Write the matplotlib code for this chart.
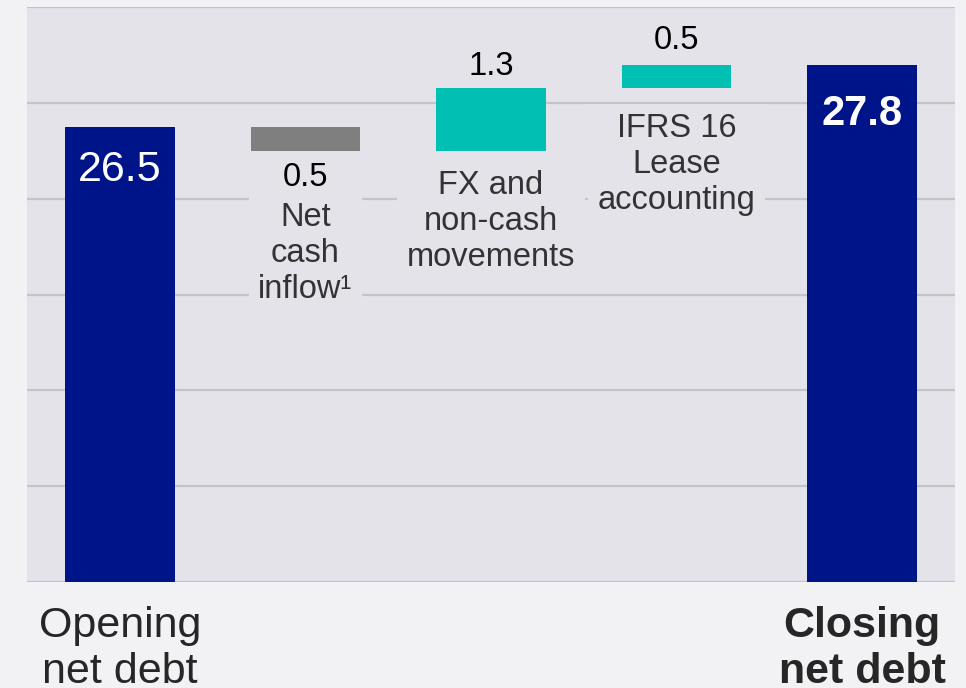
import matplotlib
matplotlib.use('Agg')
import matplotlib.pyplot as plt
import numpy as np

plt.rcParams['font.family'] = ['Liberation Sans', 'DejaVu Sans']

# data
step_labels = ['Net\ncash\ninflow¹', 'FX and\nnon-cash\nmovements', 'IFRS 16\nLease\naccounting']
opening = 26.5
steps = [-0.5, 1.3, 0.5]
closing = 27.8
end_labels = ['Opening\nnet debt', 'Closing\nnet debt']
value_texts = ['26.5', '0.5', '1.3', '0.5', '27.8']
yticks = [17, 19, 21, 23, 25, 27, 29]

navy = '#001489'
teal = '#00bfb3'
grey = '#7f7f7f'
plot_bg = '#e4e3ea'
fig_bg = '#f2f2f4'

fig = plt.figure(figsize=(9.66, 6.88), dpi=100, facecolor=fig_bg)
ax = fig.add_axes([0.028, 0.154, 0.9606, 0.8358])
ax.set_facecolor(plot_bg)
ax.set_xlim(-0.5, 4.5)
ax.set_ylim(17, 29)
for s in ax.spines.values():
    s.set_visible(False)
ax.set_xticks([])
ax.set_yticks(yticks)
ax.tick_params(left=False, labelleft=False)
ax.grid(axis='y', color='#c3c3c8', linewidth=1.6)
ax.set_axisbelow(True)

w = 0.59
ymin = ax.get_ylim()[0]
small = 23.5

# opening / closing totals
ax.bar(0, opening - ymin, bottom=ymin, width=w, color=navy, zorder=2)
ax.bar(4, closing - ymin, bottom=ymin, width=w, color=navy, zorder=2)

# steps
level = opening
bottoms, tops = [], []
for i, d in enumerate(steps):
    lo, hi = min(level, level + d), max(level, level + d)
    col = grey if d < 0 else teal
    ax.bar(i + 1, hi - lo, bottom=lo, width=w, color=col, zorder=2)
    bottoms.append(lo)
    tops.append(hi)
    level += d

# totals values
ax.annotate(value_texts[0], (0, opening), xytext=(0, -16.5), textcoords='offset points',
            ha='center', va='top', color='white', fontsize=31)
ax.annotate(value_texts[4], (4, closing), xytext=(0, -21), textcoords='offset points',
            ha='center', va='top', color='white', fontsize=30, fontweight='bold')

box = dict(boxstyle='square,pad=0.3', facecolor=plot_bg, edgecolor='none')

# net cash inflow: value and label below bar
ax.annotate(value_texts[1], (1, bottoms[0]), xytext=(0, -8), textcoords='offset points',
            ha='center', va='top', color='black', fontsize=small)
ax.annotate(step_labels[0], (1, bottoms[0]), xytext=(0, -37), textcoords='offset points',
            ha='center', va='top', color='#333333', fontsize=small, bbox=box, zorder=3)

# FX: value above, label below
ax.annotate(value_texts[2], (2, tops[1]), xytext=(0, 10), textcoords='offset points',
            ha='center', va='baseline', color='black', fontsize=small)
ax.annotate(step_labels[1], (2, bottoms[1]), xytext=(0, -14), textcoords='offset points',
            ha='center', va='top', color='#333333', fontsize=small, bbox=box, zorder=3)

# IFRS 16: value above, label below
ax.annotate(value_texts[3], (3, tops[2]), xytext=(0, 11), textcoords='offset points',
            ha='center', va='baseline', color='black', fontsize=small)
ax.annotate(step_labels[2], (3, bottoms[2]), xytext=(0, -18), textcoords='offset points',
            ha='center', va='top', color='#333333', fontsize=small, bbox=box, zorder=3)

# category labels under axis
ax.annotate(end_labels[0], (0, ymin), xytext=(0, -17), textcoords='offset points',
            ha='center', va='top', color='#262626', fontsize=31, annotation_clip=False)
ax.annotate(end_labels[1], (4, ymin), xytext=(0, -17), textcoords='offset points',
            ha='center', va='top', color='#262626', fontsize=31, fontweight='bold',
            annotation_clip=False)

fig.savefig('out.png', dpi=100, facecolor=fig_bg)
